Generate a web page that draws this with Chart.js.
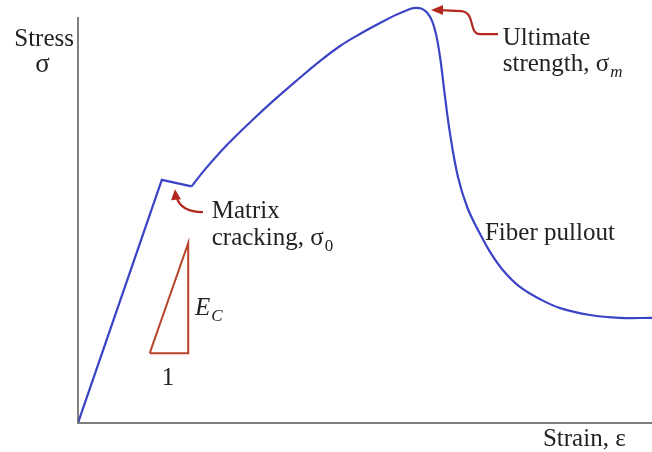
<!DOCTYPE html>
<html>
<head>
<meta charset="utf-8">
<script src="https://cdn.jsdelivr.net/npm/chart.js@4.4.1/dist/chart.umd.min.js"></script>
<style>
	html, body { margin: 0; padding: 0; background: #fff; }
	#wrap { width: 652px; height: 452px; }
</style>
</head>
<body>
<div id="wrap"><canvas id="chart" width="652" height="452"></canvas></div>
<script>
// elastic rise up to matrix cracking (straight segments)
var strainRise = [0, 14.6, 19.8];
var stressRise = [0, 59.9, 58.3];

// hardening, peak and fiber pullout (smooth)
var strainCurve = [19.8, 22.1, 26.1, 30.3, 34.3, 38.3, 42.2, 45.6, 49.1, 52.6, 55.2, 57.0, 58.4, 59.8, 60.8, 61.7, 62.4, 63.1, 63.9, 64.8, 66.2, 67.8, 69.7, 71.8, 74.0, 77.0, 80.5, 84.0, 89.2, 94.4, 100];
var stressCurve = [58.3, 62.4, 68.7, 74.5, 79.7, 84.6, 89.2, 92.8, 95.8, 98.5, 100.4, 101.5, 102.2, 102.1, 101.1, 99.0, 95.6, 89.9, 80.8, 71.4, 60.6, 53.2, 47.5, 42.1, 37.7, 33.5, 30.5, 28.3, 26.6, 25.9, 25.9];

// modulus triangle
var strainSlope = [12.5, 19.2, 19.2, 12.5];
var stressSlope = [17.2, 17.2, 44.3, 17.2];

var SERIF = "'Liberation Serif', 'DejaVu Serif', serif";
var BLUE = "#3c44c6";
var RED = "#b3281e";
var BROWN = "#b8452b";

var toPoints = function (xs, ys) {
	return xs.map(function (x, i) {
		return { x: x, y: ys[i] };
	});
};

var annotations = {
	id: "annotations",
	afterDatasetsDraw: function (chart) {
		var ctx = chart.ctx;
		var sx = chart.scales.x;
		var sy = chart.scales.y;
		var area = chart.chartArea;
		var at = function (x, y) {
			return [sx.getPixelForValue(x), sy.getPixelForValue(y)];
		};

		ctx.save();

		// axes
		ctx.strokeStyle = "#555";
		ctx.lineWidth = 1.5;
		ctx.beginPath();
		ctx.moveTo(area.left, area.top);
		ctx.lineTo(area.left, area.bottom);
		ctx.lineTo(area.right, area.bottom);
		ctx.stroke();

		ctx.fillStyle = "#222";
		ctx.textBaseline = "alphabetic";

		var text = function (str, x, y, size, style, align) {
			var p = at(x, y);
			ctx.font = (style || "") + " " + size + "px " + SERIF;
			ctx.textAlign = align || "left";
			ctx.fillText(str, p[0], p[1]);
			return p[0] + ctx.measureText(str).width;
		};

		// label with a subscript
		var sub = function (main, subText, x, y, italicMain, italicSub) {
			var end = text(main, x, y, 25, italicMain ? "italic" : "");
			var p = at(x, y);
			ctx.font = (italicSub ? "italic " : "") + "17px " + SERIF;
			ctx.textAlign = "left";
			ctx.fillText(subText, end + 1, p[1] + 6);
		};

		text("Stress", -5.9, 92.9, 25, "", "center");
		text("σ", -6.2, 86.5, 27, "", "center");
		text("Strain, ε", 81.0, -5.6, 25);

		text("Ultimate", 74.0, 93.1, 25);
		sub("strength, σ", "m", 74.0, 86.7, false, true);

		text("Matrix", 23.3, 50.5, 25);
		sub("cracking, σ", "0", 23.3, 43.8, false, false);

		sub("E", "C", 20.4, 26.6, true, true);
		text("1", 15.7, 9.4, 25, "", "center");

		text("Fiber pullout", 70.9, 45.1, 25);

		// arrows
		ctx.strokeStyle = RED;
		ctx.fillStyle = RED;
		ctx.lineWidth = 2.2;

		var tip = at(61.5, 101.7);
		ctx.beginPath();
		ctx.moveTo(tip[0] + 67, tip[1] + 24);
		ctx.lineTo(tip[0] + 49, tip[1] + 24);
		ctx.bezierCurveTo(tip[0] + 37, tip[1] + 24, tip[0] + 45, tip[1] + 2, tip[0] + 30, tip[1] + 1);
		ctx.lineTo(tip[0] + 9, tip[1]);
		ctx.stroke();
		ctx.beginPath();
		ctx.moveTo(tip[0], tip[1]);
		ctx.lineTo(tip[0] + 12, tip[1] - 5);
		ctx.lineTo(tip[0] + 12, tip[1] + 5);
		ctx.closePath();
		ctx.fill();

		tip = at(16.9, 57.6);
		ctx.beginPath();
		ctx.moveTo(tip[0] + 28, tip[1] + 23);
		ctx.quadraticCurveTo(tip[0] + 6, tip[1] + 23, tip[0] + 1.5, tip[1] + 8);
		ctx.stroke();
		ctx.beginPath();
		ctx.moveTo(tip[0], tip[1]);
		ctx.lineTo(tip[0] - 4, tip[1] + 11);
		ctx.lineTo(tip[0] + 6, tip[1] + 10);
		ctx.closePath();
		ctx.fill();

		ctx.restore();
	},
};

new Chart(document.getElementById("chart"), {
	type: "line",
	data: {
		datasets: [
			{
				data: toPoints(strainRise, stressRise),
				borderColor: BLUE,
				borderWidth: 2.2,
				pointRadius: 0,
				tension: 0,
				fill: false,
			},
			{
				data: toPoints(strainCurve, stressCurve),
				borderColor: BLUE,
				borderWidth: 2.2,
				pointRadius: 0,
				tension: 0.4,
				fill: false,
				clip: false,
			},
			{
				data: toPoints(strainSlope, stressSlope),
				borderColor: BROWN,
				borderWidth: 2,
				pointRadius: 0,
				tension: 0,
				fill: false,
			},
		],
	},
	options: {
		responsive: false,
		animation: false,
		elements: {
			line: { capBezierPoints: false },
		},
		layout: {
			padding: { left: 78, top: 17, right: 0, bottom: 29 },
		},
		plugins: {
			legend: { display: false },
			tooltip: { enabled: false },
		},
		scales: {
			x: { type: "linear", min: 0, max: 100, display: false },
			y: { type: "linear", min: 0, max: 100, display: false },
		},
	},
	plugins: [annotations],
});
</script>
</body>
</html>
